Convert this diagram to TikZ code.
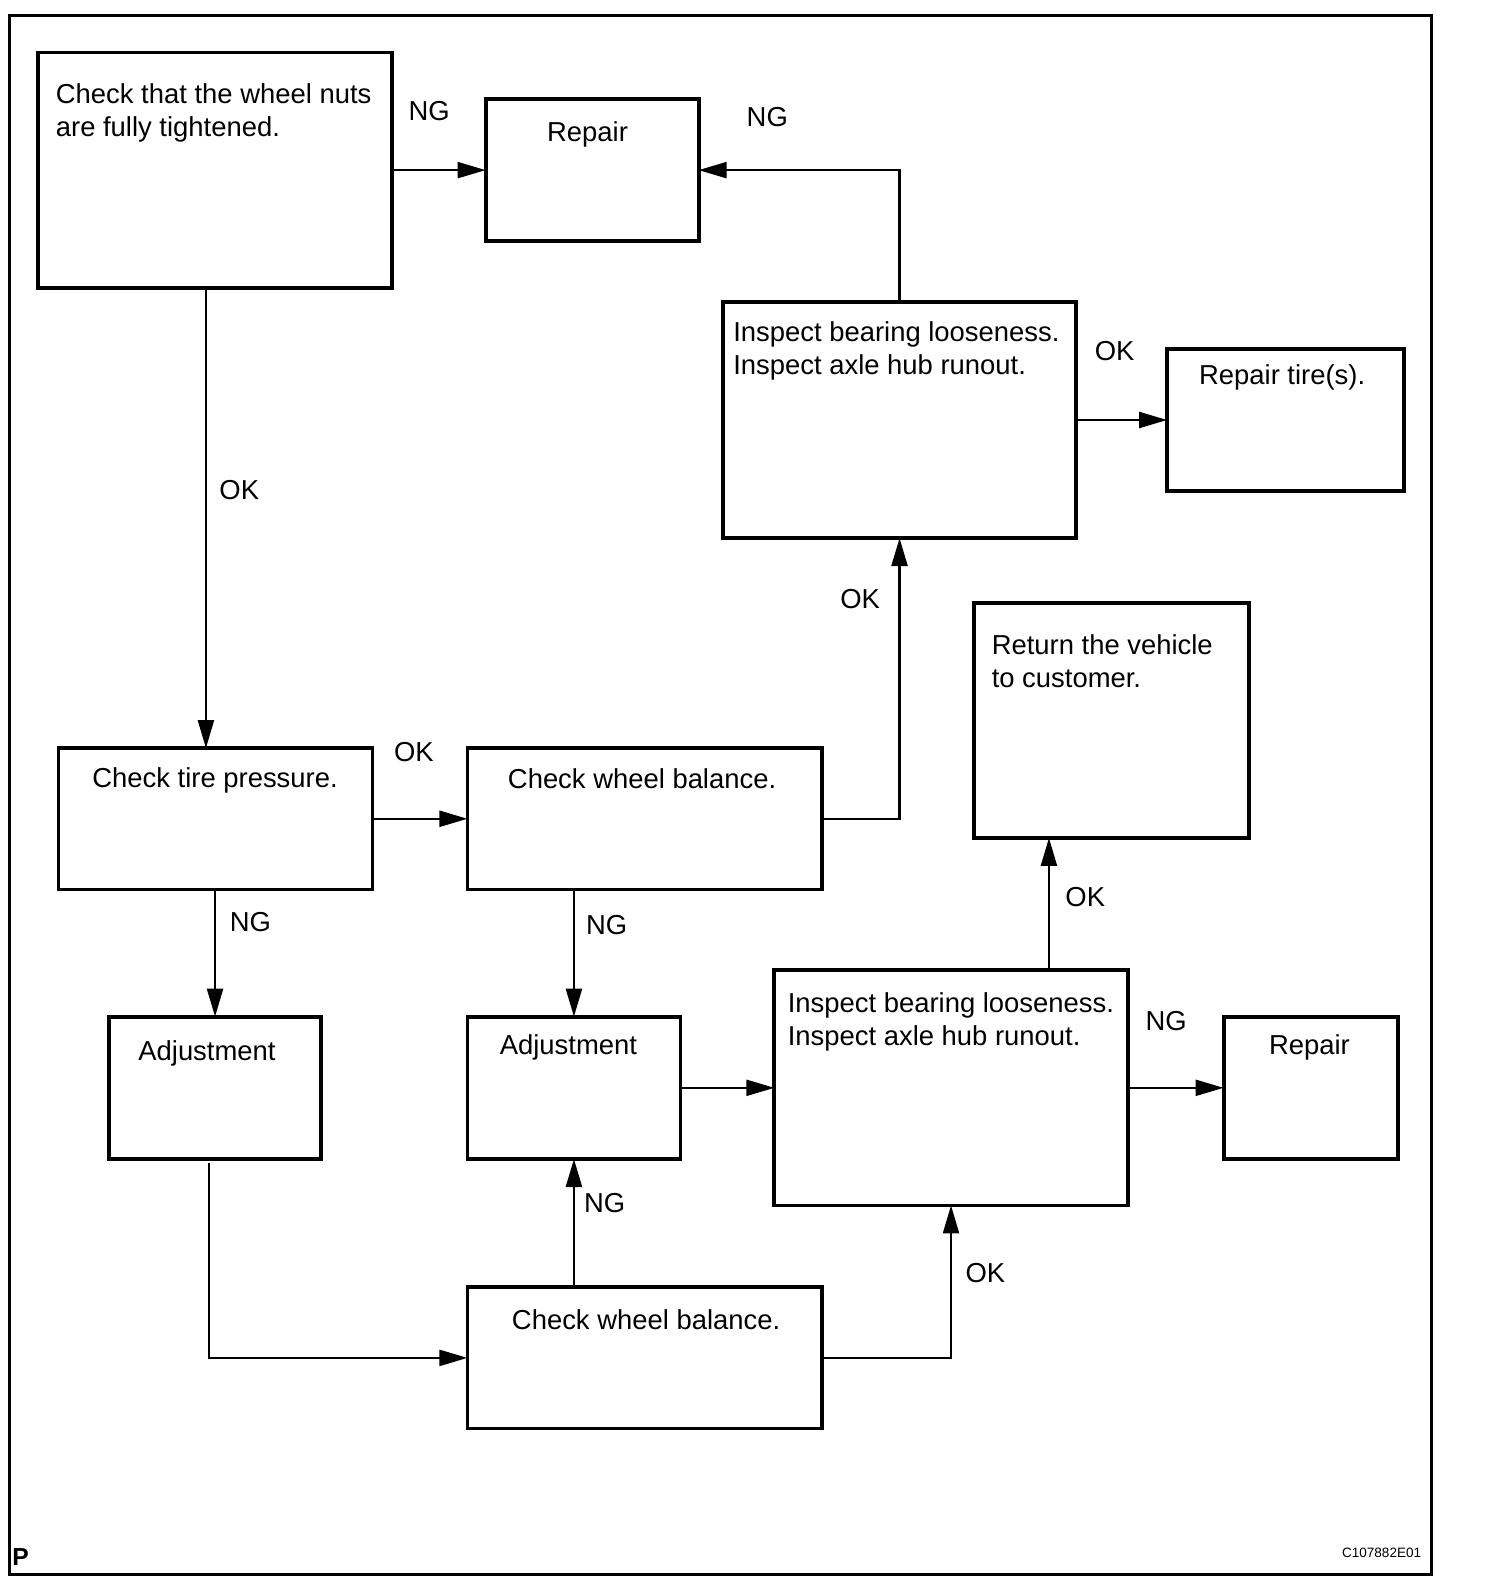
\documentclass[tikz,border=0pt]{standalone}
\usepackage{fontspec}
\setmainfont{Liberation Sans}
\usetikzlibrary{arrows.meta,calc}
\newcommand\uu{0.020192cm}
\begin{document}
\begin{tikzpicture}[x=0.020192cm,y=-0.020192cm,
  box/.style={draw,line width=2.2pt,inner sep=0pt,outer sep=0pt},
  arr/.style={line width=1.3pt,-{Triangle[length=0.56cm,width=0.32cm]}},
  txt/.style={font=\fontsize{15.6}{18.9}\selectfont,inner sep=0pt,anchor=base},
  ltxt/.style={txt,anchor=base west,align=left},
  lbl/.style={font=\fontsize{15.6}{18}\selectfont,inner sep=0pt,anchor=base}]
\useasboundingbox (0,0) rectangle (1489.7,1567);
\draw[line width=1.7pt] (9,15) rectangle (1418,1560);
% boxes
\node[box,minimum width=350*\uu,minimum height=233*\uu] (A) at (213,168.5) {};
\node[box,minimum width=211*\uu,minimum height=141*\uu] (R1) at (586.5,168.5) {};
\node[box,minimum width=350*\uu,minimum height=234*\uu] (I1) at (891,416) {};
\node[box,minimum width=235*\uu,minimum height=140*\uu] (RT) at (1273.5,416) {};
\node[box,minimum width=272*\uu,minimum height=233*\uu] (RV) at (1101,713.5) {};
\node[box,minimum width=311*\uu,minimum height=140*\uu] (CT) at (213.5,811) {};
\node[box,minimum width=351*\uu,minimum height=140*\uu] (W1) at (638.5,811) {};
\node[box,minimum width=210*\uu,minimum height=141*\uu] (AJ1) at (213,1077.5) {};
\node[box,minimum width=211*\uu,minimum height=141*\uu] (AJ2) at (568.5,1077.5) {};
\node[box,minimum width=350*\uu,minimum height=233*\uu] (I2) at (942,1077.5) {};
\node[box,minimum width=173*\uu,minimum height=141*\uu] (R2) at (1298.5,1077.5) {};
\node[box,minimum width=351*\uu,minimum height=140*\uu] (W2) at (638.5,1345) {};
% texts
\node[ltxt] (tA) at (55,135) {Check that the wheel nuts\\are fully tightened.};
\node[txt] (tR1) at (582,140) {Repair};
\node[ltxt] (tI1) at (726,371) {Inspect bearing looseness.\\Inspect axle hub runout.};
\node[txt] (tRT) at (1270,381) {Repair tire(s).};
\node[ltxt] (tRV) at (982,681) {Return the vehicle\\to customer.};
\node[txt] (tCT) at (213,780) {Check tire pressure.};
\node[txt] (tW1) at (636,781) {Check wheel balance.};
\node[txt] (tAJ1) at (205,1050) {Adjustment};
\node[txt] (tAJ2) at (563,1044) {Adjustment};
\node[ltxt] (tI2) at (780,1036) {Inspect bearing looseness.\\Inspect axle hub runout.};
\node[txt] (tR2) at (1297,1044) {Repair};
\node[txt] (tW2) at (640,1317) {Check wheel balance.};
% connectors
\draw[arr] (A.east) -- (R1.west);
\draw[arr] (I1.north) |- (R1.east);
\draw[arr] (I1.east) -- (RT.west);
\draw[arr] ([xshift=-9*\uu]A.south) -- ([xshift=-9*\uu]A.south |- CT.north);
\draw[arr] (CT.east) -- (W1.west);
\draw[arr] (W1.east) -| (I1.south);
\draw[arr] (CT.south -| AJ1.north) -- (AJ1.north);
\draw[arr] (W1.south -| AJ2.north) -- (AJ2.north);
\draw[arr] (AJ2.east) -- (I2.west);
\draw[arr] (I2.east) -- (R2.west);
\draw[arr] ([xshift=97*\uu]I2.north) -- ([xshift=97*\uu]I2.north |- RV.south);
\draw[arr] ([xshift=-6*\uu,yshift=-4*\uu]AJ1.south) |- (W2.west);
\draw[arr] (W2.north -| AJ2.south) -- (AJ2.south);
\draw[arr] (W2.east) -| (I2.south);
% labels
\node[lbl] (l1) at (425,119) {NG};
\node[lbl] (l2) at (760,125) {NG};
\node[lbl] (l3) at (1104,357) {OK};
\node[lbl] (l4) at (237,495) {OK};
\node[lbl] (l5) at (410,754) {OK};
\node[lbl] (l6) at (852,603) {OK};
\node[lbl] (l7) at (248,923) {NG};
\node[lbl] (l8) at (601,926) {NG};
\node[lbl] (l9) at (1155,1021) {NG};
\node[lbl] (l10) at (1075,898) {OK};
\node[lbl] (l11) at (599,1201) {NG};
\node[lbl] (l12) at (976,1270) {OK};
\node[font=\bfseries\fontsize{14}{14}\selectfont,inner sep=0pt,anchor=base west] (P) at (12,1551) {P};
\node[font=\fontsize{7.7}{8}\selectfont,inner sep=0pt,anchor=base east] (code) at (1408,1543) {C107882E01};
\end{tikzpicture}
\end{document}
